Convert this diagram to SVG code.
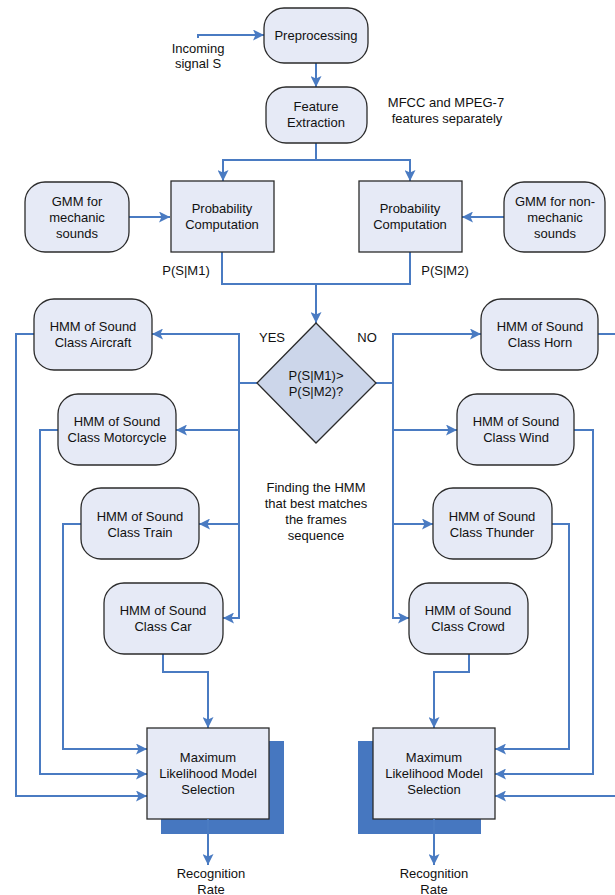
<svg xmlns="http://www.w3.org/2000/svg" width="615" height="895" viewBox="0 0 615 895">
<style>
.n{fill:#e6eaf6;stroke:#2b2b2b;stroke-width:1.3}
.d{fill:#ccd6ea;stroke:#2b2b2b;stroke-width:1.3}
.s{fill:#4677c0;stroke:none}
.c{fill:none;stroke:#4a7bc2;stroke-width:2}
.a{marker-end:url(#ah)}
text{font-family:"Liberation Sans",Arial,sans-serif;font-size:13px;fill:#111;text-anchor:middle;dominant-baseline:central}
</style>
<defs>
<marker id="ah" viewBox="0 0 11 11" refX="11" refY="5.5" markerWidth="11" markerHeight="11" markerUnits="userSpaceOnUse" orient="auto">
<path d="M0,0 L11,5.5 L0,11 L2.5,5.5 z" fill="#4a7bc2"/>
</marker>
</defs>

<g id="connectors">
<path class="c a" d="M198,38 V35 H264"/>
<path class="c a" d="M316,63 V87"/>
<path class="c a" d="M316,143 V160 H223 V181"/>
<path class="c a" d="M316,160 H410 V181"/>
<path class="c a" d="M129,217 H170"/>
<path class="c a" d="M504,217 H462"/>
<path class="c a" d="M222,252 V284 H316 V323"/>
<path class="c" d="M410,252 V284 H316"/>
<path class="c a" d="M257,383 H239 V334 H152"/>
<path class="c a" d="M239,383 V618 H223"/>
<path class="c a" d="M239,430 H176"/>
<path class="c a" d="M239,524 H199"/>
<path class="c a" d="M376,383 H393 V334 H481"/>
<path class="c a" d="M393,383 V618 H409"/>
<path class="c a" d="M393,430 H457"/>
<path class="c a" d="M393,524 H433"/>
<path class="c a" d="M34,334 H16 V796 H147"/>
<path class="c a" d="M58,430 H40 V774 H147"/>
<path class="c a" d="M81,524 H63 V749 H147"/>
<path class="c a" d="M163,654 V672 H208 V728"/>
<path class="c a" d="M598,334 H625 V796 H495"/>
<path class="c a" d="M574,430 H593 V774 H495"/>
<path class="c a" d="M552,524 H569 V749 H495"/>
<path class="c a" d="M469,654 V672 H434 V728"/>
</g>

<g id="incoming"><text x="198" y="48">Incoming</text><text x="198" y="63">signal S</text></g>
<g id="preprocessing"><rect class="n" x="264" y="8" width="104" height="55" rx="20"/><text x="316" y="35">Preprocessing</text></g>
<g id="feature"><rect class="n" x="266" y="87" width="101" height="56" rx="20"/><text x="316" y="106">Feature</text><text x="316" y="122">Extraction</text></g>
<g id="mfcc-note"><text x="446" y="102">MFCC and MPEG-7</text><text x="447" y="118">features separately</text></g>

<g id="gmm1"><rect class="n" x="25" y="182" width="104" height="70" rx="20"/><text x="77" y="201">GMM for</text><text x="77" y="217">mechanic</text><text x="77" y="233">sounds</text></g>
<g id="gmm2"><rect class="n" x="504" y="182" width="101" height="70" rx="20"/><text x="555" y="201">GMM for non-</text><text x="555" y="217">mechanic</text><text x="555" y="233">sounds</text></g>
<g id="prob1"><rect class="n" x="171" y="181" width="103" height="71"/><text x="222" y="208">Probability</text><text x="222" y="224">Computation</text></g>
<g id="prob2"><rect class="n" x="359" y="181" width="103" height="71"/><text x="410" y="208">Probability</text><text x="410" y="224">Computation</text></g>
<g id="p1label"><text x="186" y="270">P(S|M1)</text></g>
<g id="p2label"><text x="445" y="270">P(S|M2)</text></g>

<g id="decision"><polygon class="d" points="316,323 376,383 316,443 257,383"/><text x="316" y="375">P(S|M1)&gt;</text><text x="316" y="391">P(S|M2)?</text></g>
<g id="yes"><text x="272" y="337">YES</text></g>
<g id="no"><text x="367" y="337">NO</text></g>
<g id="finding"><text x="316" y="487">Finding the HMM</text><text x="316" y="503">that best matches</text><text x="316" y="519">the frames</text><text x="316" y="535">sequence</text></g>

<g id="aircraft"><rect class="n" x="34" y="299" width="118" height="71" rx="20"/><text x="93" y="326">HMM of Sound</text><text x="93" y="342">Class Aircraft</text></g>
<g id="motorcycle"><rect class="n" x="58" y="394" width="118" height="71" rx="20"/><text x="117" y="421">HMM of Sound</text><text x="117" y="437">Class Motorcycle</text></g>
<g id="train"><rect class="n" x="81" y="488" width="118" height="71" rx="20"/><text x="140" y="516">HMM of Sound</text><text x="140" y="532">Class Train</text></g>
<g id="car"><rect class="n" x="104" y="583" width="119" height="71" rx="20"/><text x="163" y="610">HMM of Sound</text><text x="163" y="626">Class Car</text></g>

<g id="horn"><rect class="n" x="481" y="299" width="117" height="71" rx="20"/><text x="540" y="326">HMM of Sound</text><text x="540" y="342">Class Horn</text></g>
<g id="wind"><rect class="n" x="457" y="394" width="117" height="71" rx="20"/><text x="516" y="421">HMM of Sound</text><text x="516" y="437">Class Wind</text></g>
<g id="thunder"><rect class="n" x="433" y="488" width="119" height="71" rx="20"/><text x="492" y="516">HMM of Sound</text><text x="492" y="532">Class Thunder</text></g>
<g id="crowd"><rect class="n" x="409" y="583" width="119" height="71" rx="20"/><text x="468" y="610">HMM of Sound</text><text x="468" y="626">Class Crowd</text></g>

<g id="mls1"><rect class="s" x="161" y="741" width="123" height="93"/><rect class="n" x="147" y="728" width="122" height="91"/><text x="208" y="757">Maximum</text><text x="208" y="773">Likelihood Model</text><text x="208" y="789">Selection</text></g>
<g id="mls2"><rect class="s" x="358" y="741" width="123" height="93"/><rect class="n" x="373" y="728" width="122" height="91"/><text x="434" y="757">Maximum</text><text x="434" y="773">Likelihood Model</text><text x="434" y="789">Selection</text></g>

<g id="outputs">
<path class="c a" d="M208,819 V865"/>
<path class="c a" d="M434,819 V865"/>
</g>
<g id="rate1"><text x="211" y="873">Recognition</text><text x="211" y="889">Rate</text></g>
<g id="rate2"><text x="434" y="873">Recognition</text><text x="434" y="889">Rate</text></g>
</svg>
